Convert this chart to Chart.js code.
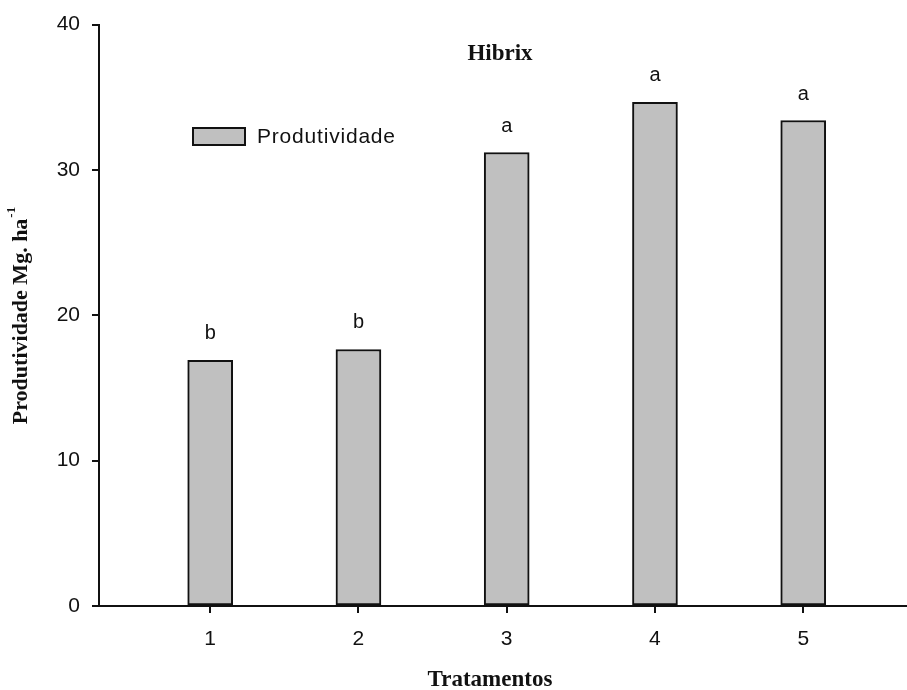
<!DOCTYPE html>
<html>
<head>
<meta charset="utf-8">
<script src="https://cdn.jsdelivr.net/npm/chart.js@4.4.1/dist/chart.umd.min.js"></script>
<style>
  html, body { margin: 0; padding: 0; background: #fff; }
  #wrap { width: 907px; height: 690px; position: relative; }
</style>
</head>
<body>
<div id="wrap"><canvas id="c" width="907" height="690"></canvas></div>
<script>
// ---- data ----
const treatments = [1, 2, 3, 4, 5];
const productivity = [16.9, 17.65, 31.2, 34.65, 33.4];
const sigLetters = ['b', 'b', 'a', 'a', 'a'];
const yTicks = [0, 10, 20, 30, 40];
const seriesLabel = 'Produtividade';
const chartTitle = 'Hibrix';
const xTitle = 'Tratamentos';
const yTitleMain = 'Produtividade Mg. ha';
const yTitleSup = '-1';

const points = treatments.map((t, i) => ({ x: t, y: productivity[i] }));

const decor = {
  id: 'decor',
  afterDatasetsDraw(chart) {
    const ctx = chart.ctx;
    const meta = chart.getDatasetMeta(0);
    ctx.save();
    // significance letters
    ctx.fillStyle = '#111';
    ctx.font = '20px "Liberation Sans", Arial, sans-serif';
    ctx.textAlign = 'center';
    ctx.textBaseline = 'alphabetic';
    meta.data.forEach((bar, i) => {
      ctx.fillText(sigLetters[i], bar.x, bar.y - 21);
    });
    // title
    ctx.font = 'bold 23px "Liberation Serif", "Times New Roman", serif';
    ctx.textBaseline = 'middle';
    ctx.fillText(chartTitle, 500, 54);
    // legend
    ctx.fillStyle = '#c0c0c0';
    ctx.fillRect(193, 128, 52, 17);
    ctx.strokeStyle = '#111';
    ctx.lineWidth = 2;
    ctx.strokeRect(193, 128, 52, 17);
    ctx.fillStyle = '#111';
    ctx.textAlign = 'left';
    ctx.font = '21px "Liberation Sans", Arial, sans-serif';
    try { ctx.letterSpacing = '0.8px'; } catch (e) {}
    ctx.fillText(seriesLabel, 257, 137);
    try { ctx.letterSpacing = '0px'; } catch (e) {}
    // x title
    ctx.textAlign = 'center';
    ctx.font = 'bold 23px "Liberation Serif", "Times New Roman", serif';
    ctx.fillText(xTitle, 490, 680);
    // y title (rotated)
    ctx.translate(20, 316);
    ctx.rotate(-Math.PI / 2);
    ctx.font = 'bold 22px "Liberation Serif", "Times New Roman", serif';
    const wMain = ctx.measureText(yTitleMain).width;
    ctx.font = 'bold 13px "Liberation Serif", "Times New Roman", serif';
    const wSup = ctx.measureText(yTitleSup).width;
    const start = -(wMain + wSup) / 2;
    ctx.textAlign = 'left';
    ctx.textBaseline = 'alphabetic';
    ctx.font = 'bold 22px "Liberation Serif", "Times New Roman", serif';
    ctx.fillText(yTitleMain, start, 7);
    ctx.font = 'bold 13px "Liberation Serif", "Times New Roman", serif';
    ctx.fillText(yTitleSup, start + wMain + 1, -5);
    ctx.restore();
  }
};

new Chart(document.getElementById('c'), {
  type: 'bar',
  data: {
    datasets: [{
      label: seriesLabel,
      data: points,
      backgroundColor: '#c0c0c0',
      borderColor: '#111',
      borderWidth: 2,
      borderSkipped: false,
      barThickness: 45
    }]
  },
  options: {
    responsive: false,
    animation: false,
    events: [],
    layout: { padding: { top: 22, right: 0, left: 0, bottom: 0 } },
    plugins: {
      legend: { display: false },
      tooltip: { enabled: false },
      title: { display: false }
    },
    scales: {
      x: {
        type: 'linear',
        min: 0.25,
        max: 5.7,
        offset: false,
        afterBuildTicks(scale) { scale.ticks = treatments.map(v => ({ value: v })); },
        afterFit(scale) { scale.height = 84; },
        ticks: {
          color: '#111',
          font: { family: '"Liberation Sans", Arial, sans-serif', size: 21 },
          padding: 14,
          maxRotation: 0,
          autoSkip: false
        },
        grid: { offset: false, drawOnChartArea: false, drawTicks: true, tickLength: 7, color: '#111', lineWidth: 2 },
        border: { display: true, color: '#111', width: 2 }
      },
      y: {
        type: 'linear',
        min: 0,
        max: 40,
        afterBuildTicks(scale) { scale.ticks = yTicks.map(v => ({ value: v })); },
        afterFit(scale) { scale.width = 99; },
        ticks: {
          color: '#111',
          font: { family: '"Liberation Sans", Arial, sans-serif', size: 21 },
          padding: 12
        },
        grid: { drawOnChartArea: false, drawTicks: true, tickLength: 7, color: '#111', lineWidth: 2 },
        border: { display: true, color: '#111', width: 2 }
      }
    }
  },
  plugins: [decor]
});
</script>
</body>
</html>
